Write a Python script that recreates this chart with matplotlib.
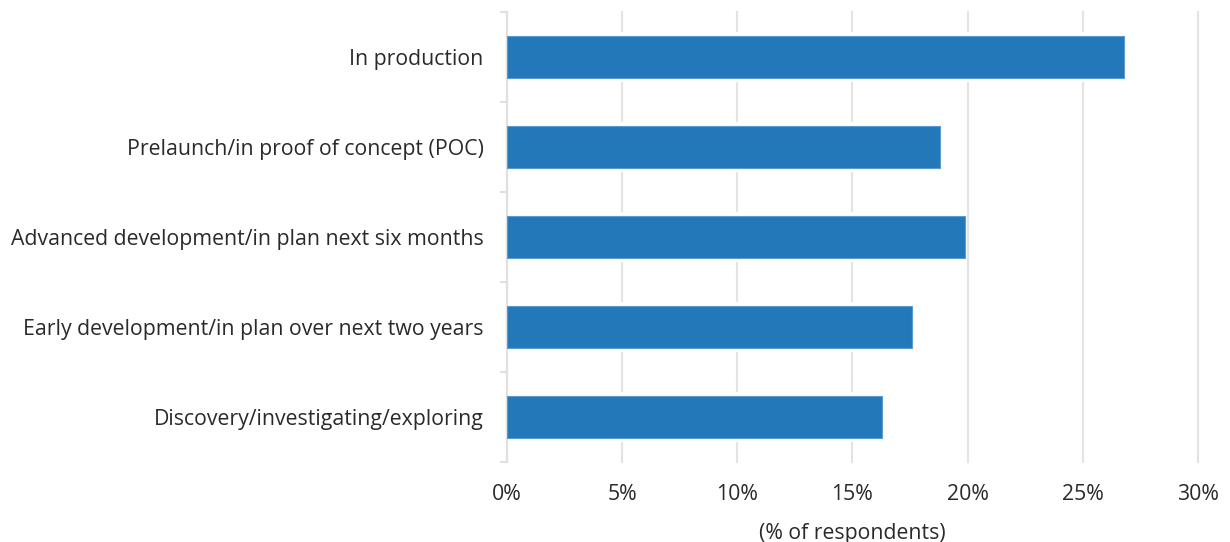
import matplotlib
matplotlib.use("Agg")
import matplotlib.pyplot as plt
import numpy as np

categories = [
    "In production",
    "Prelaunch/in proof of concept (POC)",
    "Advanced development/in plan next six months",
    "Early development/in plan over next two years",
    "Discovery/investigating/exploring",
]
values = [26.8, 18.8, 19.9, 17.6, 16.3]
xticks = [0, 5, 10, 15, 20, 25, 30]
xticklabels = ["0%", "5%", "10%", "15%", "20%", "25%", "30%"]
xlabel = "(% of respondents)"

plt.rcParams['font.family'] = ['Open Sans', 'DejaVu Sans']

fig = plt.figure(figsize=(12.3, 5.42), dpi=100)
ax = fig.add_axes([507/1230, 1 - 462/542, (1198 - 507)/1230, 450/542])

y = np.arange(len(categories))
bar_h = 0.46
gap = 0.10
# white mask behind bars to interrupt gridlines
ax.barh(y, values, height=bar_h + gap, color="white", zorder=2)
ax.barh(y, values, height=bar_h, color="#2378b9", edgecolor="#5a9bd0",
        linewidth=0.8, zorder=3)

ax.set_xlim(0, 30)
ax.set_ylim(len(categories) - 0.5, -0.5)
ax.set_xticks(xticks)
ax.set_xticklabels(xticklabels)
ax.set_yticks(y)
ax.set_yticklabels(categories)
ax.set_yticks(np.arange(-0.5, len(categories)), minor=True)

ax.xaxis.grid(True, color="#e4e4e4", linewidth=1.6, zorder=1)
for gl in ax.get_xgridlines():
    gl.set_clip_on(False)
ax.set_axisbelow(True)

for s in ["top", "right", "bottom"]:
    ax.spines[s].set_visible(False)
ax.spines["left"].set_color("#e0e0e0")
ax.spines["left"].set_linewidth(1.5)

ax.tick_params(axis="y", which="major", length=0, pad=17, labelsize=15.3,
               labelcolor="#2a2a2a")
ax.tick_params(axis="y", which="minor", length=5, width=1.5, color="#e0e0e0")
ax.tick_params(axis="x", which="major", length=0, pad=16, labelsize=15.3,
               labelcolor="#2a2a2a")
ax.set_xlabel(xlabel, fontsize=15.3, color="#2a2a2a", labelpad=13)

fig.savefig("out.png", dpi=100)
